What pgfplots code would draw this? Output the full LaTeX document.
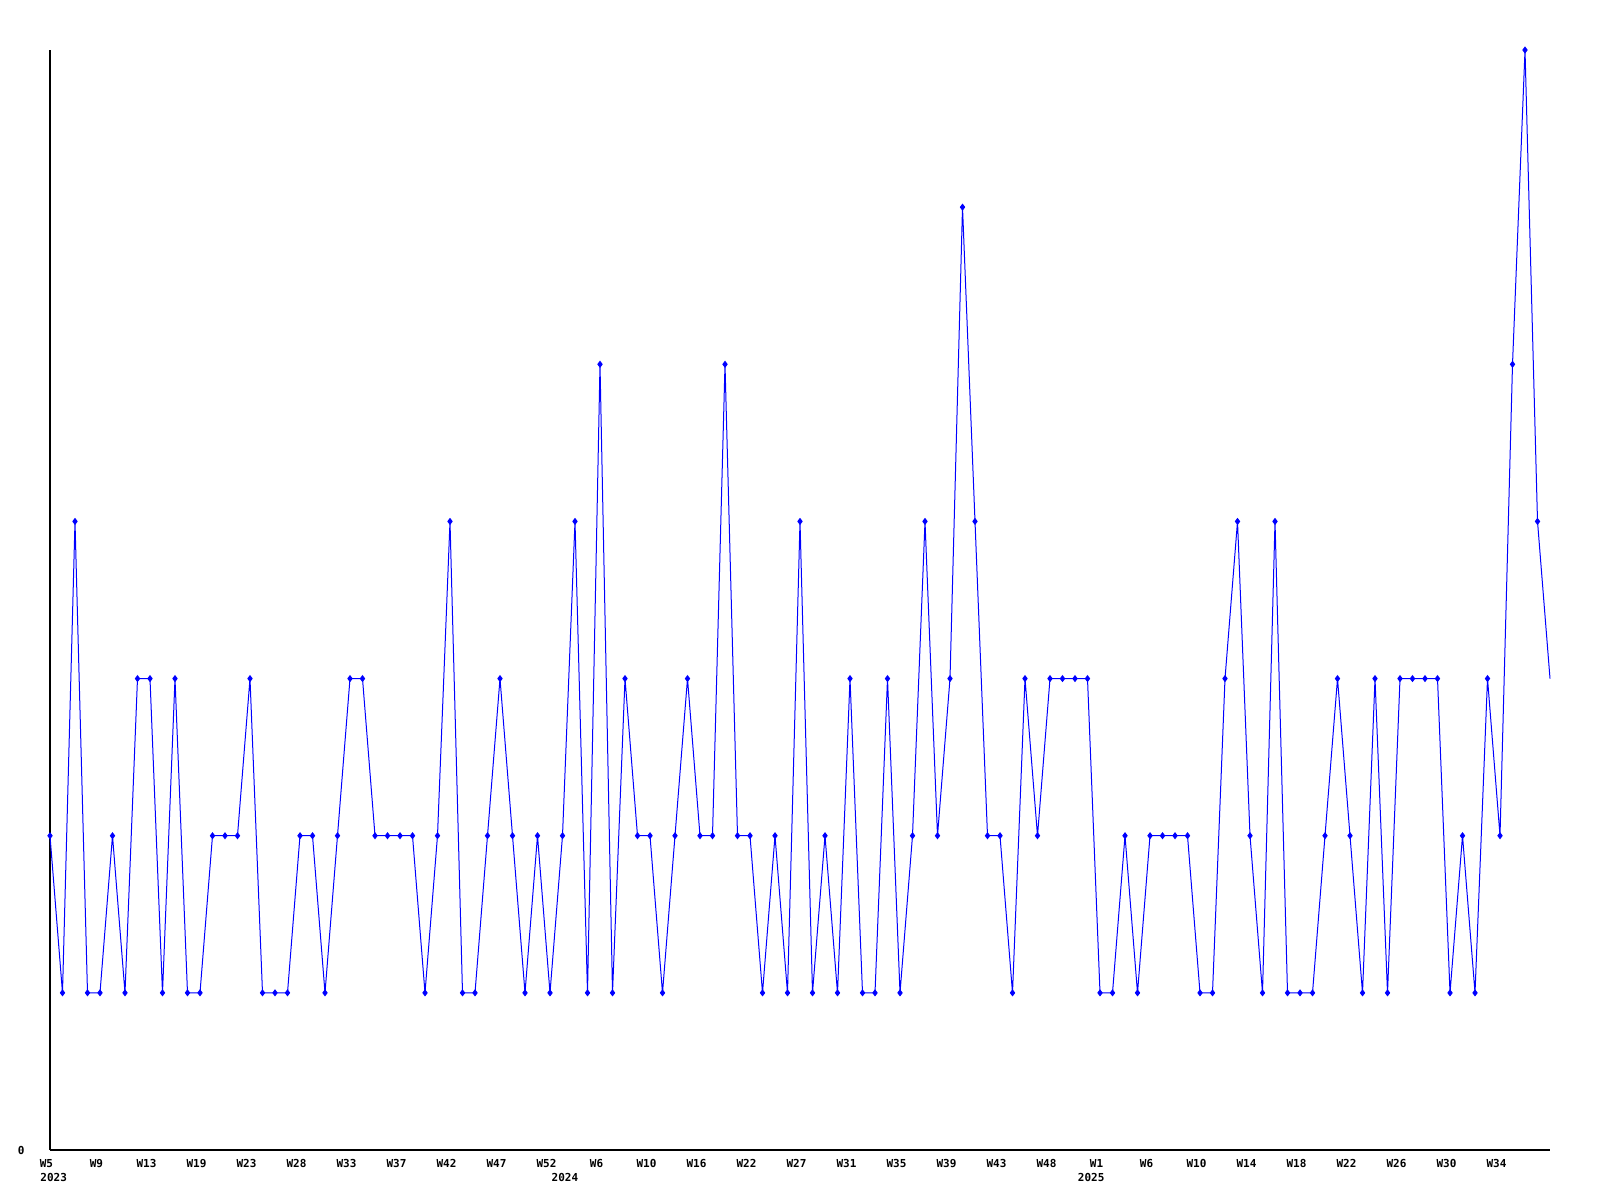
\documentclass[border=0pt]{standalone}
\usepackage{fontspec}
\setmainfont{DejaVu Sans Mono}
\usepackage{pgfplots}
\pgfplotsset{compat=1.18}
\definecolor{lineblue}{RGB}{0,0,255}

% weekly counts, one point per recorded week (index 0 = 2023 W5)
\pgfplotstableread{
i v
0 2
1 1
2 4
3 1
4 1
5 2
6 1
7 3
8 3
9 1
10 3
11 1
12 1
13 2
14 2
15 2
16 3
17 1
18 1
19 1
20 2
21 2
22 1
23 2
24 3
25 3
26 2
27 2
28 2
29 2
30 1
31 2
32 4
33 1
34 1
35 2
36 3
37 2
38 1
39 2
40 1
41 2
42 4
43 1
44 5
45 1
46 3
47 2
48 2
49 1
50 2
51 3
52 2
53 2
54 5
55 2
56 2
57 1
58 2
59 1
60 4
61 1
62 2
63 1
64 3
65 1
66 1
67 3
68 1
69 2
70 4
71 2
72 3
73 6
74 4
75 2
76 2
77 1
78 3
79 2
80 3
81 3
82 3
83 3
84 1
85 1
86 2
87 1
88 2
89 2
90 2
91 2
92 1
93 1
94 3
95 4
96 2
97 1
98 4
99 1
100 1
101 1
102 2
103 3
104 2
105 1
106 3
107 1
108 3
109 3
110 3
111 3
112 1
113 2
114 1
115 3
116 2
117 5
118 7
119 4
120 3
}\weekly

\begin{document}
\begin{tikzpicture}
\begin{axis}[
 scale only axis,
 width=750pt,height=550pt,
 xmin=0,xmax=120,ymin=0,ymax=7,
 axis x line=bottom,axis y line=left,
 axis line style={-,black,line width=0.6pt},
 major tick length=0pt,
 xtick={0,4,...,116},
 xticklabels={W5,W9,W13,W19,W23,W28,W33,W37,W42,W47,W52,W6,W10,W16,W22,W27,W31,W35,W39,W43,W48,W1,W6,W10,W14,W18,W22,W26,W30,W34},
 ytick={0},yticklabels={0},
 /pgf/number format/assume math mode=true,
 ticklabel style={font=\bfseries\fontsize{5.5}{6}\selectfont,inner sep=0pt},
 xticklabel style={anchor=north,xshift=-1.75pt,yshift=-4.5pt},
 yticklabel style={anchor=east,xshift=-12.5pt},
 clip=false,
]
\addplot[lineblue,line width=0.5pt,mark=diamond*,mark size=1.4pt,
 mark indices={1,...,120}] table[x=i,y=v] {\weekly};
\node[anchor=north west,inner sep=0pt,font=\bfseries\fontsize{5.5}{6}\selectfont]
 at (axis cs:-0.8,0) [yshift=-11.5pt] {2023};
\node[anchor=north west,inner sep=0pt,font=\bfseries\fontsize{5.5}{6}\selectfont]
 at (axis cs:40.1,0) [yshift=-11.5pt] {2024};
\node[anchor=north west,inner sep=0pt,font=\bfseries\fontsize{5.5}{6}\selectfont]
 at (axis cs:82.2,0) [yshift=-11.5pt] {2025};
\end{axis}
\path[use as bounding box] (-25pt,-25pt) rectangle (775pt,575pt);
\end{tikzpicture}
\end{document}
